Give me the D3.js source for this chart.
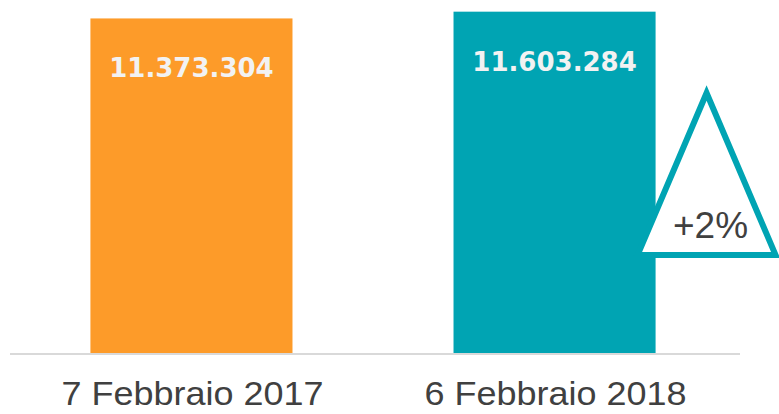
<!DOCTYPE html>
<html>
<head>
<meta charset="utf-8">
<script src="https://cdn.jsdelivr.net/npm/d3@7"></script>
<style>
  body { margin: 0; background: #fff; }
  svg { display: block; }
</style>
</head>
<body>
<div id="chart"></div>
<script>
// dimensions of the page
var width = 779;
var height = 414;

// data
var categories = ["7 Febbraio 2017", "6 Febbraio 2018"];
var values = [11373304, 11603284];
var labels = ["11.373.304", "11.603.284"];
var colors = ["#FD9B29", "#00A4B3"];
var change = "+2%";

var svg = d3.select("#chart").append("svg")
    .attr("width", width)
    .attr("height", height);

var x = d3.scaleBand()
    .domain(categories)
    .range([8, 738])
    .paddingInner(0.4435)
    .paddingOuter(0.227);

var y = d3.scaleLinear()
    .domain([0, 12000000])
    .range([353, 0]);

// baseline
svg.append("line")
    .attr("x1", 10)
    .attr("x2", 740)
    .attr("y1", y(0) + 1)
    .attr("y2", y(0) + 1)
    .style("stroke", "#d9d9d9")
    .style("stroke-width", "2px");

// bars
svg.selectAll("rect.bar")
    .data(categories)
    .enter()
    .append("rect")
    .attr("class", "bar")
    .attr("x", function(d) {return x(d);})
    .attr("width", x.bandwidth())
    .attr("y", function(d, i) {return y(values[i]);})
    .attr("height", function(d, i) {return y(0) - y(values[i]);})
    .attr("fill", function(d, i) {return colors[i];});

// value labels inside bars
svg.selectAll("text.value")
    .data(categories)
    .enter()
    .append("text")
    .attr("class", "value")
    .attr("x", function(d) {return x(d) + x.bandwidth() / 2;})
    .attr("y", function(d, i) {return y(values[i]) + 59;})
    .attr("text-anchor", "middle")
    .style("font-family", "'DejaVu Sans', sans-serif")
    .style("font-weight", "bold")
    .style("font-size", "26px")
    .style("fill", "#F2F2F2")
    .text(function(d, i) {return labels[i];});

// category labels
svg.selectAll("text.cat")
    .data(categories)
    .enter()
    .append("text")
    .attr("class", "cat")
    .attr("x", function(d) {return x(d) + x.bandwidth() / 2 + 1;})
    .attr("y", 405)
    .attr("text-anchor", "middle")
    .style("font-family", "'Liberation Sans', Arial, sans-serif")
    .style("font-size", "33px")
    .style("fill", "#404040")
    .attr("textLength", 262)
    .attr("lengthAdjust", "spacingAndGlyphs")
    .text(function(d) {return d;});

// change triangle, placed off the right edge of the second bar
var right = x(categories[1]) + x.bandwidth();
var tri = [[right - 18, 255], [right + 120, 255], [right + 51, 93]];
svg.append("path")
    .attr("d", d3.line()(tri) + "Z")
    .style("fill", "#fff")
    .style("stroke", colors[1])
    .style("stroke-width", "6px")
    .style("stroke-linejoin", "miter");

svg.append("text")
    .attr("x", right + 55)
    .attr("y", 238)
    .attr("text-anchor", "middle")
    .style("font-family", "'Liberation Sans', Arial, sans-serif")
    .style("font-size", "37px")
    .style("fill", "#404040")
    .text(change);
</script>
</body>
</html>
